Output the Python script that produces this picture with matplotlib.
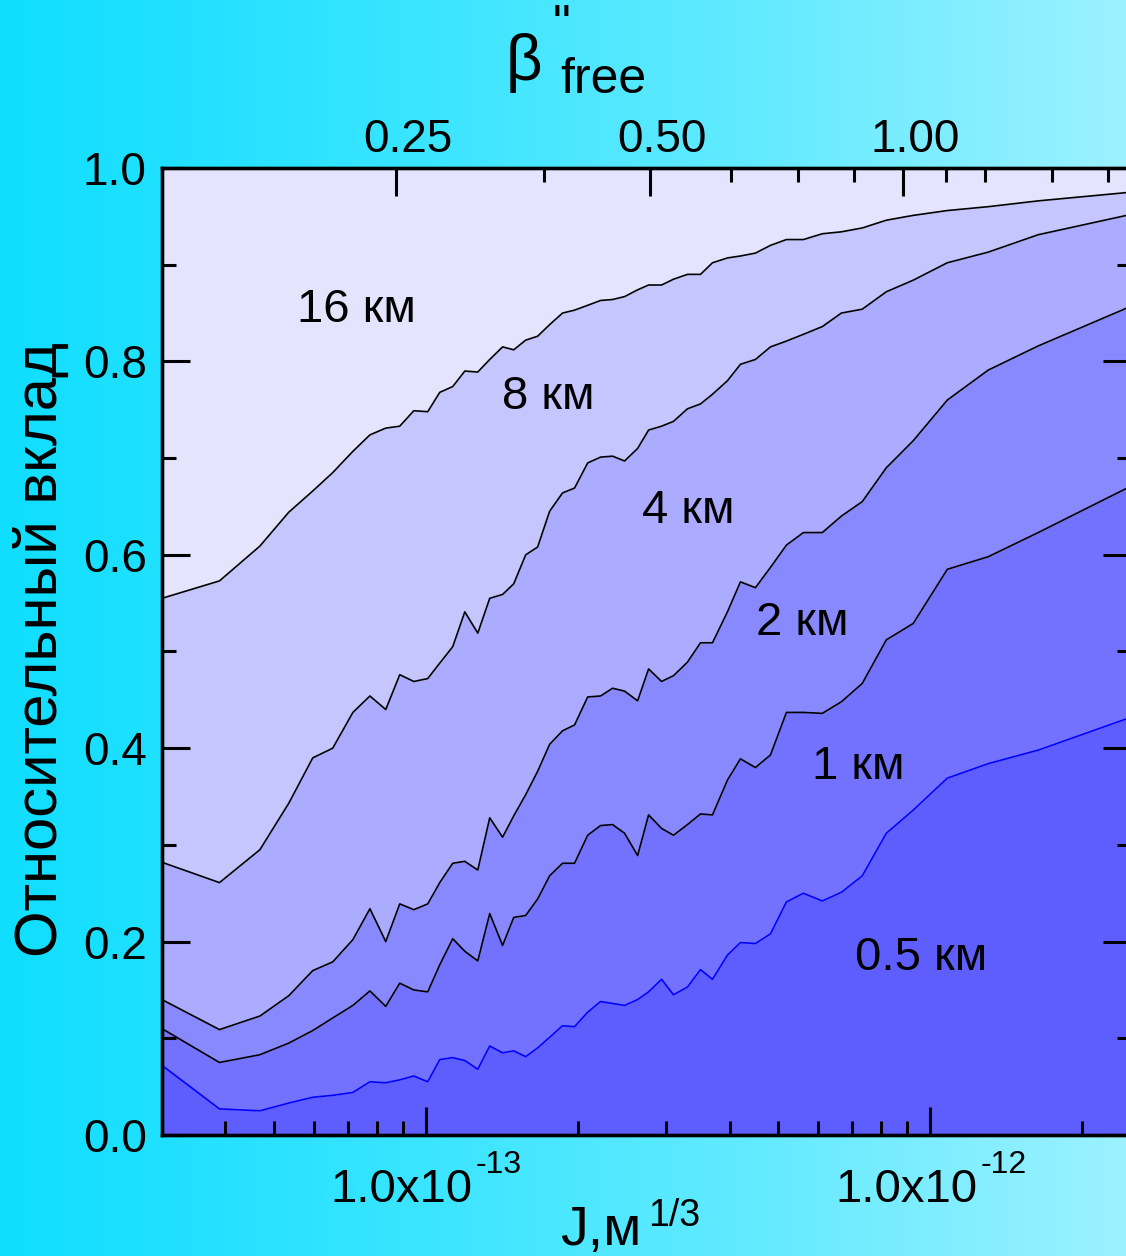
import numpy as np
import matplotlib
matplotlib.use("Agg")
import matplotlib.pyplot as plt
from matplotlib.colors import LinearSegmentedColormap
from matplotlib.ticker import FixedLocator, LogLocator, NullFormatter
from matplotlib.transforms import blended_transform_factory, offset_copy

plt.rcParams['font.family'] = ['Liberation Sans', 'DejaVu Sans']

# J, units of 1e-13 m^(1/3)
J = np.array([0.30, 0.39, 0.469, 0.535, 0.597, 0.654, 0.717, 0.775, 0.833, 0.888,
              0.947, 1.009, 1.066, 1.131, 1.195, 1.268, 1.339, 1.420, 1.494, 1.578,
              1.666, 1.760, 1.867, 1.972, 2.094, 2.221, 2.346, 2.478, 2.630, 2.765,
              2.934, 3.098, 3.302, 3.504, 3.701, 3.963, 4.205, 4.503, 4.823, 5.187,
              5.605, 6.110, 6.666, 7.333, 8.183, 9.254, 10.81, 13.03, 16.37, 25.0]) * 1e-13

# cumulative contribution, upper edge of each band
c05 = [0.072, 0.027, 0.025, 0.033, 0.039, 0.041, 0.044, 0.055, 0.054, 0.057,
       0.061, 0.055, 0.078, 0.080, 0.077, 0.068, 0.092, 0.085, 0.087, 0.081,
       0.090, 0.101, 0.113, 0.112, 0.127, 0.138, 0.136, 0.134, 0.140, 0.148,
       0.161, 0.145, 0.153, 0.171, 0.161, 0.186, 0.199, 0.198, 0.208, 0.241,
       0.250, 0.242, 0.251, 0.268, 0.312, 0.336, 0.369, 0.384, 0.398, 0.432]
c1 = [0.110, 0.075, 0.083, 0.095, 0.108, 0.121, 0.134, 0.149, 0.133, 0.157,
      0.150, 0.148, 0.176, 0.203, 0.190, 0.180, 0.229, 0.196, 0.225, 0.227,
      0.244, 0.268, 0.281, 0.281, 0.310, 0.320, 0.321, 0.312, 0.289, 0.331,
      0.317, 0.310, 0.321, 0.332, 0.331, 0.367, 0.389, 0.380, 0.393, 0.437,
      0.437, 0.436, 0.448, 0.467, 0.512, 0.529, 0.585, 0.598, 0.623, 0.671]
c2 = [0.140, 0.109, 0.123, 0.144, 0.170, 0.179, 0.202, 0.234, 0.200, 0.239,
      0.233, 0.239, 0.261, 0.281, 0.283, 0.274, 0.328, 0.308, 0.330, 0.352,
      0.376, 0.404, 0.418, 0.424, 0.453, 0.454, 0.462, 0.459, 0.449, 0.482,
      0.469, 0.475, 0.489, 0.509, 0.509, 0.541, 0.572, 0.566, 0.587, 0.610,
      0.623, 0.623, 0.640, 0.655, 0.690, 0.718, 0.760, 0.791, 0.816, 0.857]
c4 = [0.282, 0.261, 0.295, 0.343, 0.390, 0.400, 0.437, 0.454, 0.440, 0.476,
      0.469, 0.472, 0.488, 0.505, 0.541, 0.519, 0.555, 0.559, 0.570, 0.600,
      0.608, 0.645, 0.664, 0.669, 0.695, 0.701, 0.702, 0.697, 0.710, 0.729,
      0.733, 0.738, 0.751, 0.756, 0.766, 0.780, 0.797, 0.802, 0.815, 0.821,
      0.828, 0.836, 0.850, 0.854, 0.872, 0.884, 0.902, 0.913, 0.931, 0.952]
c8 = [0.555, 0.573, 0.609, 0.644, 0.666, 0.685, 0.707, 0.724, 0.731, 0.733,
      0.749, 0.748, 0.768, 0.774, 0.790, 0.789, 0.802, 0.815, 0.812, 0.822,
      0.826, 0.838, 0.850, 0.853, 0.858, 0.863, 0.864, 0.867, 0.874, 0.879,
      0.879, 0.885, 0.890, 0.890, 0.902, 0.907, 0.909, 0.912, 0.920, 0.926,
      0.926, 0.932, 0.934, 0.938, 0.946, 0.951, 0.956, 0.960, 0.966, 0.975]

band_names = ['0.5 км', '1 км', '2 км', '4 км', '8 км', '16 км']
band_colors = ['#5E5EFF', '#7272FF', '#8989FF', '#ABABFF', '#C6C6FF', '#E4E4FE']
# label positions (J, value)
label_J = [9.6e-13, 7.2e-13, 5.58e-13, 3.32e-13, 1.75e-13, 0.73e-13]
label_y = [0.183, 0.381, 0.529, 0.645, 0.763, 0.853]

J_major = [1e-13, 1e-12]
J_exps = ['-13', '-12']

# top axis: beta''_free ~ J^0.6, beta = 1 at J ~ 8.84e-13
beta_J1 = 8.84e-13
beta_pow = 0.5985
beta_major = [0.25, 0.5, 1.0]
beta_labels = ['0.25', '0.50', '1.00']
beta_minor = [0.375, 0.625, 0.75, 0.875, 1.125, 1.25, 1.5, 1.75]

xlim = (3e-14, 2.5e-12)


def beta(j):
    return (j / beta_J1) ** beta_pow


fig = plt.figure(figsize=(11.26, 12.56), dpi=100)

# background gradient
bg = fig.add_axes([0, 0, 1, 1], zorder=-10)
cm_bg = LinearSegmentedColormap.from_list('bg', ['#10DEFF', '#35E4FF', '#62EAFF', '#9CF1FF'])
bg.imshow(np.linspace(0, 1, 512).reshape(1, -1), aspect='auto', cmap=cm_bg,
          extent=[0, 1, 0, 1])
bg.axis('off')

ax = fig.add_axes([162 / 1126, 121 / 1256, 969 / 1126, 967 / 1256])
ax.set_xscale('log')
ax.set_xlim(*xlim)
ax.set_ylim(0, 1)

zero = np.zeros(len(J))
one = np.ones(len(J))
edges = [zero, c05, c1, c2, c4, c8, one]
for i in range(6):
    ax.fill_between(J, edges[i], edges[i + 1], color=band_colors[i], lw=0)
ax.plot(J, c05, color='#0000FF', lw=1.2)
for c in [c1, c2, c4, c8]:
    ax.plot(J, c, color='black', lw=1.2)

for name, lx, ly in zip(band_names, label_J, label_y):
    ax.text(lx, ly, name, fontsize=34, ha='center', va='center')

ax.set_yticks(np.arange(0, 1.01, 0.2))
ax.set_yticklabels(['0.0', '0.2', '0.4', '0.6', '0.8', '1.0'])
ax.yaxis.set_minor_locator(FixedLocator(np.arange(0.1, 1.0, 0.2)))
ax.xaxis.set_major_locator(FixedLocator(J_major))
ax.xaxis.set_major_formatter(NullFormatter())
ax.xaxis.set_minor_locator(LogLocator(subs=np.arange(2, 10)))
ax.xaxis.set_minor_formatter(NullFormatter())
ax.tick_params(which='both', direction='in', width=2.2, top=False, right=True,
               labelsize=33)
ax.tick_params(which='major', length=20)
ax.tick_params(which='minor', length=10)
ax.tick_params(axis='y', pad=11)
for s in ax.spines.values():
    s.set_linewidth(2.4)

# bottom tick labels drawn as text: 1.0x10 with raised exponent
xb = blended_transform_factory(ax.transData, ax.transAxes)
for j, e in zip(J_major, J_exps):
    ax.text(j, 0, '1.0x10', fontsize=34, ha='right', va='baseline',
            transform=offset_copy(xb, fig, x=47, y=-67, units='dots'))
    ax.text(j, 0, e, fontsize=23, ha='left', va='baseline',
            transform=offset_copy(xb, fig, x=50, y=-38, units='dots'))

ax2 = ax.twiny()
ax2.set_xscale('log')
ax2.set_xlim(beta(xlim[0]), beta(xlim[1]))
ax2.xaxis.set_major_locator(FixedLocator(beta_major))
ax2.xaxis.set_major_formatter(NullFormatter())
ax2.xaxis.set_minor_locator(FixedLocator(beta_minor))
ax2.xaxis.set_minor_formatter(NullFormatter())
ax2.tick_params(which='both', direction='in', width=2.2)
ax2.tick_params(which='major', length=20)
ax2.tick_params(which='minor', length=10)
for s in ax2.spines.values():
    s.set_linewidth(2.4)

xt = blended_transform_factory(ax2.transData, ax2.transAxes)
for b, lab in zip(beta_major, beta_labels):
    ax2.text(b, 1, lab, fontsize=33, ha='center', va='baseline',
             transform=offset_copy(xt, fig, x=12, y=16, units='dots'))

# axis titles
fig.text(41 / 1126, 1 - 650 / 1256, 'Относительный вклад', fontsize=43,
         rotation=90, ha='center', va='center')
fig.text(560 / 1126, 1 - 1245 / 1256, 'J,м', fontsize=40, ha='left', va='baseline')
fig.text(648 / 1126, 1 - 1226 / 1256, '1/3', fontsize=27, ha='left', va='baseline')
fig.text(506 / 1126, 1 - 80 / 1256, 'β', fontsize=46, ha='left', va='baseline')
fig.text(553 / 1126, 1 - 40 / 1256, '"', fontsize=36, ha='left', va='baseline')
fig.text(560 / 1126, 1 - 93 / 1256, 'free', fontsize=36, ha='left', va='baseline')

fig.savefig('out.png', dpi=100)
